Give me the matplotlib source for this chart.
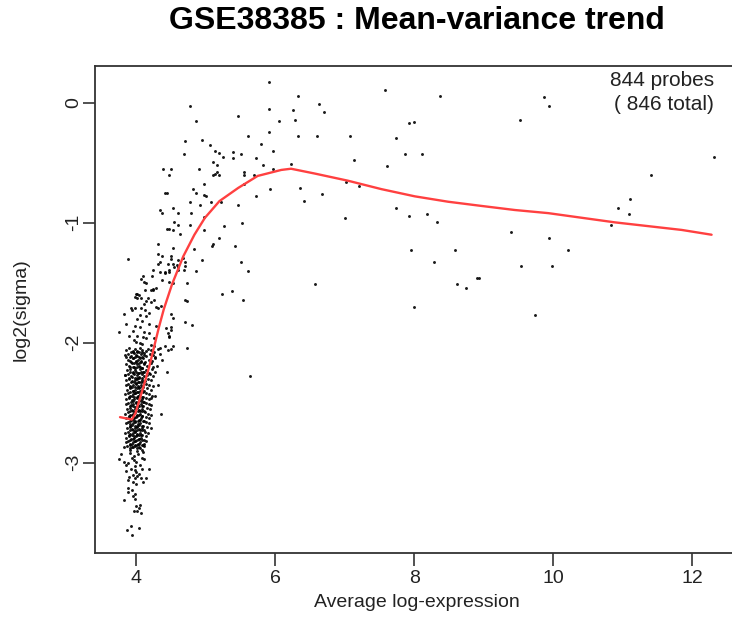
import matplotlib
matplotlib.use("Agg")
import matplotlib.pyplot as plt

plt.rcParams['font.family'] = ['Liberation Sans', 'DejaVu Sans']

title = "GSE38385 : Mean-variance trend"
xlabel = "Average log-expression"
ylabel = "log2(sigma)"
note = "844 probes\n( 846 total)"
xticks = [4, 6, 8, 10, 12]
yticks = [0, -1, -2, -3]

# sparse high-expression probes
high_x = [6.33, 7.58, 8.38, 9.87, 9.94, 6.63, 6.26, 6.70, 6.28, 9.52, 7.93, 8.00, 6.33, 6.60, 7.08,
          7.74, 7.87, 8.11, 7.13, 6.23, 7.61, 12.31, 11.41, 6.36, 6.68, 7.02, 7.21, 6.41, 11.11, 10.93,
          11.09, 10.84, 7.74, 7.93, 8.19, 8.33, 7.00, 9.40, 9.94, 7.95, 8.59, 10.21, 8.28, 9.54, 9.99,
          6.57, 8.62, 8.75, 8.91, 8.94, 8.00, 9.74]
high_y = [0.06, 0.11, 0.06, 0.05, -0.03, -0.01, -0.06, -0.08, -0.14, -0.14, -0.17, -0.16, -0.28, -0.28, -0.28,
          -0.29, -0.43, -0.43, -0.48, -0.51, -0.53, -0.45, -0.60, -0.71, -0.76, -0.66, -0.69, -0.82, -0.80, -0.88,
          -0.93, -1.02, -0.88, -0.94, -0.93, -0.99, -0.96, -1.08, -1.13, -1.23, -1.23, -1.23, -1.33, -1.36, -1.36,
          -1.51, -1.51, -1.54, -1.46, -1.46, -1.70, -1.77]

# mid-expression probes
mid_x = [4.84, 5.09, 5.11, 5.43, 4.68, 4.71, 4.71, 4.69, 4.95, 4.87, 5.51, 5.61, 4.73, 5.24, 5.38,
         5.54, 4.71, 4.74, 4.71, 4.80, 4.74, 5.64,
         5.91, 4.77, 5.91, 4.87, 5.46, 6.06, 5.91, 5.61, 4.71, 4.95, 5.06, 5.80, 5.14, 5.19, 5.40,
         5.51, 5.25, 4.69, 5.40, 5.97, 5.72, 5.11, 5.16, 4.39, 4.50, 4.90, 5.83, 5.97, 4.47, 5.11,
         5.14, 5.16, 5.19, 5.56, 5.56, 5.70, 4.98, 5.56, 4.82, 4.42, 4.45, 4.87, 4.98, 5.00, 5.93,
         5.72, 4.77, 5.08, 5.22, 4.92, 5.46, 4.53, 4.34, 4.37, 4.61, 4.79, 4.98, 4.55, 4.60, 4.77,
         5.53, 4.45, 4.47, 4.53, 4.98, 5.27, 4.63, 5.19, 4.31, 4.53]
mid_y = [-1.22, -1.19, -1.18, -1.19, -1.29, -1.33, -1.36, -1.39, -1.31, -1.40, -1.33, -1.40, -1.50, -1.59, -1.57,
         -1.64, -1.64, -1.65, -1.83, -1.85, -2.04, -2.28,
         0.17, -0.03, -0.05, -0.15, -0.11, -0.15, -0.24, -0.28, -0.32, -0.31, -0.35, -0.34, -0.40, -0.42, -0.41,
         -0.43, -0.45, -0.43, -0.46, -0.40, -0.46, -0.49, -0.52, -0.55, -0.55, -0.55, -0.52, -0.55, -0.60, -0.60,
         -0.59, -0.58, -0.60, -0.58, -0.60, -0.60, -0.68, -0.68, -0.72, -0.75, -0.75, -0.75, -0.77, -0.78, -0.72,
         -0.78, -0.83, -0.83, -0.83, -0.85, -0.85, -0.88, -0.89, -0.92, -0.92, -0.92, -0.95, -0.99, -1.02, -1.02,
         -1.00, -1.05, -1.05, -1.06, -1.06, -1.03, -1.09, -1.13, -1.18, -1.21]

# rising flank of the low-expression cloud
rise_x = [3.88, 4.32, 4.50, 4.50, 4.35, 4.61, 4.59, 4.48, 4.54, 4.25, 4.34, 4.10, 4.23, 4.07, 4.12,
          4.41, 4.37, 4.21, 4.25, 4.29, 4.00, 4.04, 3.98, 4.07, 4.17, 4.26, 4.22, 4.12, 4.29, 3.98,
          3.94, 4.13, 4.19, 4.06, 4.14, 3.83, 4.50, 4.53, 4.02, 4.09, 4.19, 3.86, 3.99, 4.06, 4.29,
          4.43, 4.50, 4.51, 3.76, 3.95, 4.11, 4.19, 3.90, 4.02, 4.10, 4.14, 4.26, 3.97, 4.00, 4.06,
          4.08, 4.46, 4.47, 4.48, 4.22, 4.26, 4.34, 4.41, 4.53,
          4.37, 4.31, 4.46, 4.53, 4.60, 4.61, 4.41, 4.48, 4.14, 4.48, 4.53, 4.01, 4.02, 4.13, 4.24,
          4.14, 4.36, 4.07, 3.93, 4.31,
          4.31, 4.28, 4.36, 4.22, 4.45, 4.38, 4.50, 4.46, 4.21, 4.12, 3.84, 3.86]
rise_y = [-1.30, -1.26, -1.28, -1.30, -1.33, -1.31, -1.35, -1.39, -1.37, -1.39, -1.41, -1.44, -1.44, -1.47, -1.49,
          -1.42, -1.48, -1.56, -1.55, -1.54, -1.59, -1.60, -1.62, -1.63, -1.63, -1.64, -1.66, -1.68, -1.70, -1.71,
          -1.73, -1.73, -1.75, -1.77, -1.78, -1.76, -1.76, -1.79, -1.80, -1.82, -1.84, -1.84, -1.86, -1.87, -1.86,
          -1.88, -1.87, -1.89, -1.91, -1.90, -1.91, -1.92, -1.94, -1.94, -1.95, -1.96, -1.96, -1.98, -1.99, -2.00,
          -2.01, -1.92, -1.95, -1.94, -2.02, -2.03, -2.04, -2.03, -2.03,
          -1.28, -1.34, -1.34, -1.34, -1.37, -1.39, -1.41, -1.41, -1.50, -1.49, -1.50, -1.59, -1.63, -1.56, -1.56,
          -1.65, -1.69, -1.71, -1.71, -1.71,
          -2.35, -2.44, -2.59, -2.46, -2.24, -2.14, -2.05, -2.06, -2.71, -2.84, -2.27, -2.12]

# dense core of the low-expression cloud
core_x = [
    3.86, 3.90, 3.95, 3.98, 4.02, 4.06, 4.09, 4.14, 4.17, 4.22, 4.26, 4.31,
    3.84, 3.89, 3.93, 3.96, 4.00, 4.04, 4.07, 4.11, 4.15, 4.20, 4.24, 4.28, 4.34,
    3.88, 3.92, 3.95, 4.00, 4.03, 4.07, 4.10, 4.13, 4.18, 4.23, 4.27,
    3.85, 3.90, 3.94, 3.97, 4.01, 4.05, 4.08, 4.12, 4.16, 4.21, 4.25, 4.30,
    3.87, 3.91, 3.96, 3.99, 4.03, 4.06, 4.10, 4.15, 4.18, 4.23, 4.28,
    3.84, 3.89, 3.93, 3.97, 4.01, 4.04, 4.08, 4.12, 4.16, 4.20, 4.25,
    3.86, 3.90, 3.94, 3.98, 4.02, 4.05, 4.09, 4.13, 4.17, 4.22,
    3.85, 3.89, 3.92, 3.96, 4.00, 4.03, 4.07, 4.10, 4.14, 4.19, 4.24,
    3.87, 3.91, 3.95, 3.99, 4.02, 4.05, 4.09, 4.12, 4.16, 4.21,
    3.84, 3.88, 3.92, 3.96, 3.99, 4.03, 4.06, 4.10, 4.14, 4.18, 4.23,
    3.86, 3.90, 3.94, 3.97, 4.01, 4.04, 4.08, 4.11, 4.15, 4.19,
    3.85, 3.89, 3.93, 3.96, 4.00, 4.03, 4.07, 4.10, 4.14, 4.18, 4.22,
    3.87, 3.91, 3.94, 3.98, 4.01, 4.05, 4.08, 4.12, 4.16, 4.20,
    3.84, 3.88, 3.92, 3.95, 3.99, 4.02, 4.06, 4.09, 4.13, 4.17, 4.21,
    3.86, 3.90, 3.93, 3.97, 4.00, 4.04, 4.07, 4.11, 4.15, 4.19,
    3.85, 3.89, 3.92, 3.96, 3.99, 4.03, 4.06, 4.10, 4.14, 4.18,
    3.87, 3.91, 3.94, 3.98, 4.01, 4.05, 4.08, 4.12, 4.16,
    3.84, 3.88, 3.92, 3.95, 3.99, 4.02, 4.06, 4.09, 4.13, 4.17,
    3.86, 3.90, 3.93, 3.97, 4.00, 4.04, 4.07, 4.11, 4.15,
    3.85, 3.89, 3.92, 3.96, 3.99, 4.03, 4.06, 4.10, 4.14,
    3.83, 3.87, 3.91, 3.94, 3.98, 4.01, 4.05, 4.08, 4.12,
    3.93, 3.97, 4.01, 4.04, 4.08, 4.12,
    3.91, 3.95, 3.98, 4.02, 4.06, 4.09,
    3.93, 3.97, 4.00, 4.04, 4.07, 4.11,
    3.91, 3.95, 3.99, 4.02, 4.06, 4.09,
    3.92, 3.96, 4.00, 4.04, 4.07, 4.11,
    3.90, 3.94, 3.98, 4.01, 4.05, 4.08,
    3.93, 3.97, 4.00, 4.03, 4.07, 4.10,
    3.91, 3.94, 3.98, 4.02, 4.05, 4.09,
    3.92, 3.96, 3.99, 4.03, 4.06, 4.10,
    3.90, 3.94, 3.97, 4.01, 4.05, 4.08,
    3.93, 3.96, 4.00, 4.03, 4.07, 4.10,
    3.91, 3.95, 3.98, 4.02, 4.05, 4.09,
    3.92, 3.95, 3.99, 4.03, 4.06, 4.09,
    3.90, 3.94, 3.97, 4.01, 4.04, 4.08,
    3.92, 3.96, 3.99, 4.03, 4.06, 4.10,
    3.91, 3.94, 3.98, 4.01, 4.05, 4.08,
    3.92, 3.95, 3.99, 4.02, 4.06, 4.09,
    3.90, 3.94, 3.97, 4.01, 4.04, 4.07,
    3.92, 3.95, 3.99, 4.02, 4.05, 4.09,
    3.91, 3.94, 3.98, 4.01, 4.05, 4.08,
]
core_y = [
    -2.06, -2.04, -2.07, -2.05, -2.08, -2.04, -2.06, -2.07, -2.05, -2.06, -2.08, -2.05,
    -2.10, -2.09, -2.11, -2.08, -2.10, -2.12, -2.09, -2.10, -2.11, -2.09, -2.10, -2.12, -2.09,
    -2.14, -2.15, -2.13, -2.16, -2.14, -2.15, -2.13, -2.16, -2.14, -2.15, -2.13,
    -2.18, -2.19, -2.17, -2.20, -2.18, -2.19, -2.21, -2.18, -2.19, -2.17, -2.20, -2.19,
    -2.23, -2.22, -2.24, -2.23, -2.25, -2.22, -2.24, -2.23, -2.25, -2.22, -2.24,
    -2.27, -2.26, -2.28, -2.26, -2.27, -2.29, -2.26, -2.28, -2.27, -2.26, -2.28,
    -2.31, -2.30, -2.32, -2.31, -2.30, -2.33, -2.31, -2.32, -2.30, -2.31,
    -2.35, -2.34, -2.36, -2.35, -2.34, -2.36, -2.35, -2.37, -2.34, -2.35, -2.36,
    -2.39, -2.38, -2.40, -2.39, -2.41, -2.38, -2.39, -2.40, -2.38, -2.39,
    -2.43, -2.42, -2.44, -2.43, -2.42, -2.44, -2.43, -2.45, -2.42, -2.43, -2.44,
    -2.47, -2.46, -2.48, -2.47, -2.46, -2.48, -2.47, -2.49, -2.46, -2.47,
    -2.51, -2.50, -2.52, -2.51, -2.50, -2.52, -2.51, -2.53, -2.50, -2.51, -2.52,
    -2.55, -2.54, -2.56, -2.55, -2.54, -2.56, -2.55, -2.57, -2.54, -2.55,
    -2.59, -2.58, -2.60, -2.59, -2.58, -2.60, -2.59, -2.61, -2.58, -2.59, -2.60,
    -2.63, -2.62, -2.64, -2.63, -2.62, -2.64, -2.63, -2.65, -2.62, -2.63,
    -2.67, -2.66, -2.68, -2.67, -2.66, -2.68, -2.67, -2.69, -2.66, -2.67,
    -2.71, -2.70, -2.72, -2.71, -2.70, -2.72, -2.71, -2.73, -2.70,
    -2.75, -2.74, -2.76, -2.75, -2.74, -2.76, -2.75, -2.77, -2.74, -2.75,
    -2.79, -2.78, -2.80, -2.79, -2.78, -2.80, -2.79, -2.81, -2.78,
    -2.83, -2.82, -2.84, -2.83, -2.82, -2.84, -2.83, -2.85, -2.82,
    -2.87, -2.86, -2.88, -2.87, -2.86, -2.88, -2.87, -2.89, -2.86,
    -2.075, -2.085, -2.07, -2.08, -2.075, -2.085,
    -2.115, -2.125, -2.12, -2.11, -2.125, -2.12,
    -2.16, -2.165, -2.155, -2.17, -2.16, -2.165,
    -2.205, -2.20, -2.21, -2.20, -2.205, -2.21,
    -2.245, -2.25, -2.24, -2.25, -2.245, -2.24,
    -2.29, -2.285, -2.29, -2.295, -2.285, -2.29,
    -2.33, -2.325, -2.335, -2.33, -2.325, -2.33,
    -2.37, -2.365, -2.37, -2.375, -2.365, -2.37,
    -2.41, -2.405, -2.415, -2.41, -2.405, -2.41,
    -2.45, -2.445, -2.455, -2.45, -2.445, -2.45,
    -2.49, -2.485, -2.495, -2.49, -2.485, -2.49,
    -2.53, -2.525, -2.535, -2.53, -2.525, -2.53,
    -2.57, -2.565, -2.575, -2.57, -2.565, -2.57,
    -2.61, -2.605, -2.615, -2.61, -2.605, -2.61,
    -2.65, -2.645, -2.655, -2.65, -2.645, -2.65,
    -2.69, -2.685, -2.695, -2.69, -2.685, -2.69,
    -2.73, -2.725, -2.735, -2.73, -2.725, -2.73,
    -2.77, -2.765, -2.775, -2.77, -2.765, -2.77,
    -2.81, -2.805, -2.815, -2.81, -2.805, -2.81,
    -2.85, -2.845, -2.855, -2.85, -2.845, -2.85,
]

# lower tail of the cloud
tail_x = [3.95, 4.06, 3.92, 4.01, 4.10, 3.78, 3.76, 3.83, 3.97, 3.94, 3.88, 4.00, 4.06, 4.09, 3.98,
          3.93, 4.18, 3.86, 4.00, 3.95, 4.02, 3.98, 4.07, 4.14, 3.89, 3.95, 4.00, 3.88, 3.88, 3.94,
          3.98, 3.95, 3.99, 3.83, 4.06, 4.00, 4.04, 3.97, 4.01, 4.07, 3.93, 4.05, 3.87, 3.94,
          3.91, 4.03, 3.97, 4.08, 3.86, 4.12, 3.99, 4.04, 3.90, 4.10]
tail_y = [-2.87, -2.88, -2.89, -2.90, -2.91, -2.93, -2.97, -2.99, -2.94, -2.96, -3.00, -2.99, -3.02, -3.05, -3.03,
          -3.05, -3.05, -3.07, -3.08, -3.10, -3.11, -3.13, -3.13, -3.13, -3.14, -3.16, -3.18, -3.21, -3.24, -3.23,
          -3.26, -3.28, -3.30, -3.31, -3.35, -3.36, -3.38, -3.40, -3.40, -3.42, -3.53, -3.54, -3.56, -3.60,
          -2.92, -2.93, -2.98, -2.96, -3.02, -2.97, -3.06, -3.09, -3.12, -3.16]

# lowess trend line
trend_x = [3.77, 3.94, 3.99, 4.10, 4.19, 4.33, 4.40, 4.52, 4.68, 4.84, 4.99, 5.20, 5.47, 5.75, 6.09,
           6.23, 6.57, 7.05, 7.53, 8.01, 8.49, 8.97, 9.45, 9.93, 10.89, 11.85, 12.28]
trend_y = [-2.62, -2.64, -2.59, -2.38, -2.20, -1.87, -1.72, -1.51, -1.28, -1.10, -0.96, -0.82, -0.71, -0.61, -0.56,
           -0.55, -0.59, -0.65, -0.72, -0.78, -0.825, -0.86, -0.894, -0.92, -0.997, -1.06, -1.10]

W, H = 732, 636
fig = plt.figure(figsize=(W / 100, H / 100), dpi=100)
left, right, top, bottom = 95, 738, 66, 553
ax = fig.add_axes([left / W, (H - bottom) / H, (right - left) / W, (bottom - top) / H])

for xs, ys in [(high_x, high_y), (mid_x, mid_y), (rise_x, rise_y), (core_x, core_y), (tail_x, tail_y)]:
    ax.plot(xs, ys, linestyle='none', marker='o', markersize=2.1, color='black',
            markeredgewidth=0, alpha=0.9)

ax.plot(trend_x, trend_y, color='#ff4040', linewidth=1.7, solid_capstyle='round')

ax.set_xlim(3.41, 12.66)
ax.set_ylim(-3.752, 0.306)
ax.set_xticks(xticks)
ax.set_xticklabels([str(v) for v in xticks])
ax.set_yticks(yticks)
ax.set_yticklabels([str(v) for v in yticks], rotation=90, va='center')
ax.tick_params(direction='out', length=9, width=1.1, labelsize=14, colors='#222222')
ax.tick_params(axis='x', pad=3)
ax.tick_params(axis='y', pad=0)
for s in ax.spines.values():
    s.set_linewidth(1.3)
    s.set_color('#333333')

ax.set_xlabel(xlabel, fontsize=14, labelpad=5, color='#222222')
ax.set_ylabel(ylabel, fontsize=14, labelpad=26, color='#222222')
fig.text((left + right) / 2 / W, 1 - 21 / H, title, ha='center', va='center',
         fontsize=23, fontweight='bold', color='black')
ax.text(714 / W, 1 - 71 / H, note, transform=fig.transFigure, ha='right', va='top',
        fontsize=15, color='#222222', linespacing=1.3)

fig.savefig("out.png", dpi=100)
